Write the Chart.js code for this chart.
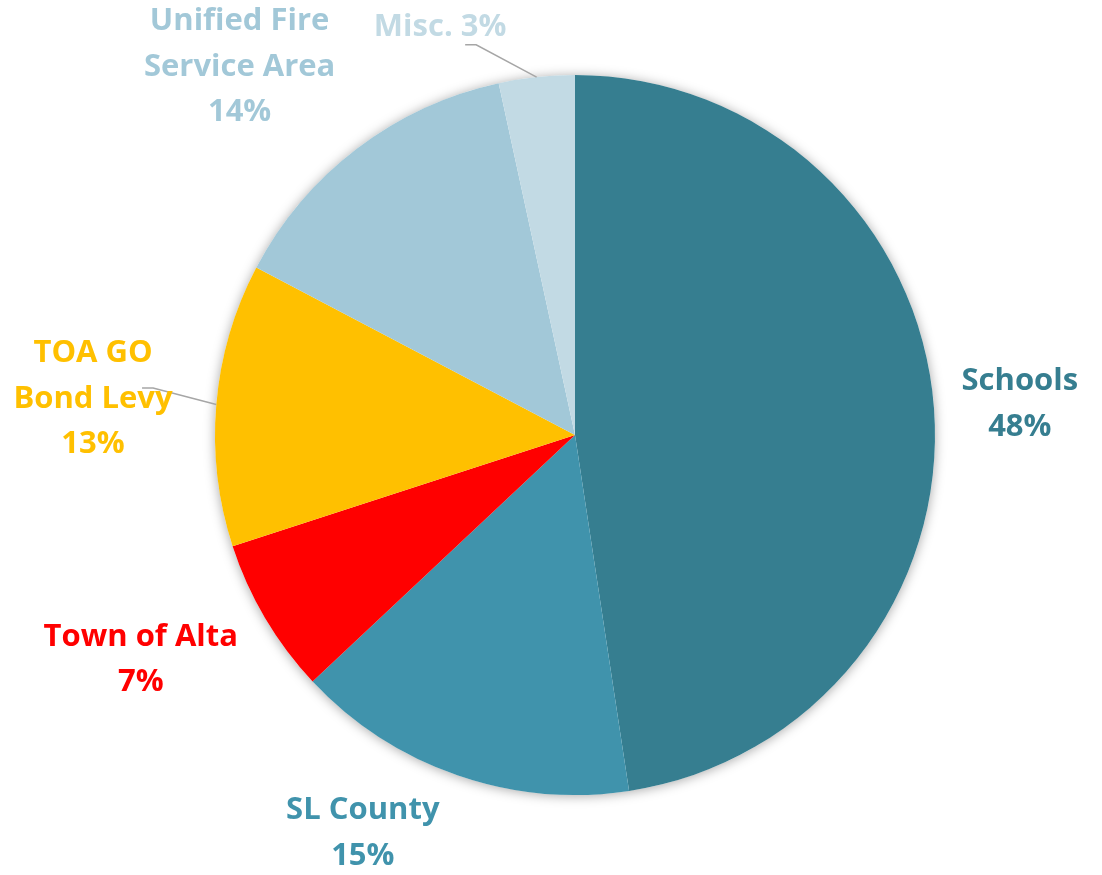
<!DOCTYPE html>
<html>
<head>
<meta charset="utf-8">
<script src="https://cdn.jsdelivr.net/npm/chart.js@4.4.1/dist/chart.umd.min.js"></script>
<style>
  html, body { margin: 0; padding: 0; background: #ffffff; }
  #wrap { width: 1102px; height: 875px; }
</style>
</head>
<body>
<div id="wrap"><canvas id="g_pie" width="1102" height="875"></canvas></div>
<script>
// les données du graphe
const categories = ['Schools', 'SL County', 'Town of Alta', 'TOA GO Bond Levy', 'Unified Fire Service Area', 'Misc.'];
const values = [47.6, 15.4, 7.0, 12.7, 13.9, 3.4];
const percentLabels = ['48%', '15%', '7%', '13%', '14%', '3%'];
// découpage des noms sur plusieurs lignes (comme dans l'image)
const nameLines = [['Schools'], ['SL County'], ['Town of Alta'], ['TOA GO', 'Bond Levy'], ['Unified Fire', 'Service Area'], ['Misc.']];

// couleurs des parts
const colors = ['#367e90', '#4093ac', '#ff0000', '#ffc000', '#a2c8d8', '#c2dae4'];

// placement des étiquettes : décalage d'angle (degrés) par rapport au milieu de la part, distance en rayon
const labelShift = [0.1, 9.1, 3.5, -0.3, -4.9, -12.1];
const labelDist = [1.239, 1.248, 1.355, 1.343, 1.388, 1.198];
// lignes de rappel (coude et fin, relatifs au centre de l'étiquette)
const leaders = [null, null, null, { elbow: [60, -8.5], end: [49, -8.5] }, null, { elbow: [36, 19.5], end: [25, 19.5] }];

const fontSize = 31;
const lineHeight = 45.5;

// ombre douce sous le camembert
const shadowPlugin = {
    id: 'pieShadow',
    beforeDatasetsDraw(chart) {
        let arc = chart.getDatasetMeta(0).data[0];
        if (!arc) return;
        let ctx = chart.ctx;
        ctx.save();
        ctx.shadowColor = 'rgba(0,0,0,0.35)';
        ctx.shadowBlur = 12;
        ctx.shadowOffsetX = 0;
        ctx.shadowOffsetY = 1;
        ctx.fillStyle = '#ffffff';
        ctx.beginPath();
        ctx.arc(arc.x, arc.y, arc.outerRadius, 0, Math.PI * 2);
        ctx.fill();
        ctx.restore();
    }
};

// étiquettes à l'extérieur des parts
const labelPlugin = {
    id: 'outLabels',
    afterDatasetsDraw(chart) {
        let ctx = chart.ctx;
        let meta = chart.getDatasetMeta(0);
        ctx.save();
        ctx.font = 'bold ' + fontSize + 'px "Open Sans"';
        ctx.textAlign = 'center';
        ctx.textBaseline = 'alphabetic';
        let capH = fontSize * 0.714;
        for (let i = 0; i < meta.data.length; i++) {
            let arc = meta.data[i];
            let mid = (arc.startAngle + arc.endAngle) / 2;
            let a = mid + labelShift[i] * Math.PI / 180;
            let d = arc.outerRadius * labelDist[i];
            let cx = arc.x + Math.cos(a) * d;
            let cy = arc.y + Math.sin(a) * d;
            // lignes de texte
            let lines = nameLines[i].slice();
            if (lines.length === 1 && i === 5) {
                lines[0] = lines[0] + ' ' + percentLabels[i];
            } else {
                lines.push(percentLabels[i]);
            }
            // ligne de rappel
            if (leaders[i]) {
                let sx = arc.x + Math.cos(mid) * arc.outerRadius;
                let sy = arc.y + Math.sin(mid) * arc.outerRadius;
                ctx.strokeStyle = '#a6a6a6';
                ctx.lineWidth = 1.5;
                ctx.beginPath();
                ctx.moveTo(sx, sy);
                ctx.lineTo(cx + leaders[i].elbow[0], cy + leaders[i].elbow[1]);
                ctx.lineTo(cx + leaders[i].end[0], cy + leaders[i].end[1]);
                ctx.stroke();
            }
            ctx.fillStyle = colors[i];
            let y0 = cy - (lines.length - 1) * lineHeight / 2 + capH / 2;
            for (let k = 0; k < lines.length; k++) {
                ctx.fillText(lines[k], cx, y0 + k * lineHeight);
            }
        }
        ctx.restore();
    }
};

function drawPie() {
    let context = document.getElementById('g_pie').getContext('2d');
    let conData = {
        labels: categories,
        datasets: [{
            data: values,
            backgroundColor: colors,
            borderWidth: 0
        }]
    };
    let options = {
        responsive: false,
        animation: false,
        layout: {
            padding: { left: 215, right: 167, top: 75, bottom: 80 }
        },
        plugins: {
            legend: { display: false },
            tooltip: { enabled: false },
            title: { display: false }
        }
    };
    let config = {
        type: 'pie',
        data: conData,
        options: options,
        plugins: [shadowPlugin, labelPlugin]
    };
    let gPie = new Chart(context, config);
}

window.addEventListener('load', () => {
    drawPie();
});
</script>
</body>
</html>
